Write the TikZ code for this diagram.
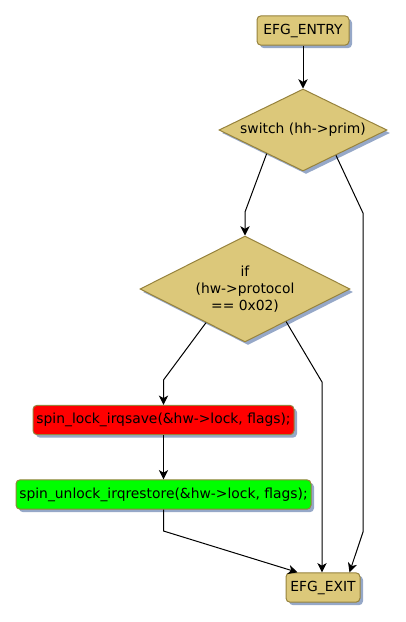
\documentclass[tikz,border=0pt]{standalone}
\usepackage{fontspec}
\setmainfont{DejaVu Sans}
\usetikzlibrary{arrows.meta,calc,shapes.geometric,shadows}
\definecolor{efgtan}{RGB}{220,200,122}
\definecolor{efgedge}{RGB}{150,130,60}
\definecolor{efgshade}{RGB}{150,168,200}

\begin{document}
\begin{tikzpicture}[x=0.75pt,y=-0.75pt,>={Stealth[length=7pt,width=7pt,inset=2pt]},font=\fontsize{10.4}{12.8}\selectfont,line width=0.75pt]
\tikzstyle{blk}=[draw=efgedge,fill=efgtan,rounded corners=3pt,inner sep=2pt,minimum height=22pt,drop shadow={shadow xshift=2.25pt,shadow yshift=-2.25pt,fill=efgshade,opacity=1}]
\tikzstyle{cond}=[diamond,draw=efgedge,fill=efgtan,inner sep=0pt,aspect=2,align=center,drop shadow={shadow xshift=2.25pt,shadow yshift=-2.25pt,fill=efgshade,opacity=1}]
\useasboundingbox (0,0) rectangle (405,622);
\node[blk,minimum width=69pt] (entry) at (303,30.5) {EFG\_ENTRY};
\node[cond,minimum width=126pt,minimum height=61.5pt] (sw) at (303,130) {switch (hh->prim)};
\node[cond,minimum width=157.5pt,minimum height=79.5pt] (ifp) at (245,289) {if\\(hw->protocol\\== 0x02)};
\node[blk,fill=red,minimum width=195.75pt] (lock) at (163.5,420) {spin\_lock\_irqsave(\&hw->lock, flags);};
\node[blk,fill=green,minimum width=221.25pt] (unlock) at (163.5,494.5) {spin\_unlock\_irqrestore(\&hw->lock, flags);};
\node[blk,minimum width=55.5pt] (exit) at (323,587.5) {EFG\_EXIT};
% bends
\coordinate (swl) at ($(sw.west)!0.57!(sw.south)$); \coordinate (swr) at ($(sw.east)!0.61!(sw.south)$);
\coordinate (ifl) at ($(ifp.west)!0.63!(ifp.south)$); \coordinate (ifr) at ($(ifp.east)!0.61!(ifp.south)$);
\coordinate (k1) at (245,212); \coordinate (k2) at (363,213); \coordinate (k3) at (363,532);
\coordinate (k4) at (163.5,380); \coordinate (k5) at (322,382); \coordinate (k6) at (163.5,531);
\draw[->] (entry) -- (sw);
\draw[->] (swl) -- (k1) -- (ifp.north);
\draw[->] (swr) -- (k2) -- (k3) -- ($(exit.north east)-(11,0)$);
\draw[->] (ifl) -- (k4) -- (lock.north);
\draw[->] (ifr) -- (k5) -- (k5 |- exit.north);
\draw[->] (lock) -- (unlock);
\draw[->] (unlock.south) -- (k6) -- ($(exit.north west)+(12,0)$);
\end{tikzpicture}
\end{document}
